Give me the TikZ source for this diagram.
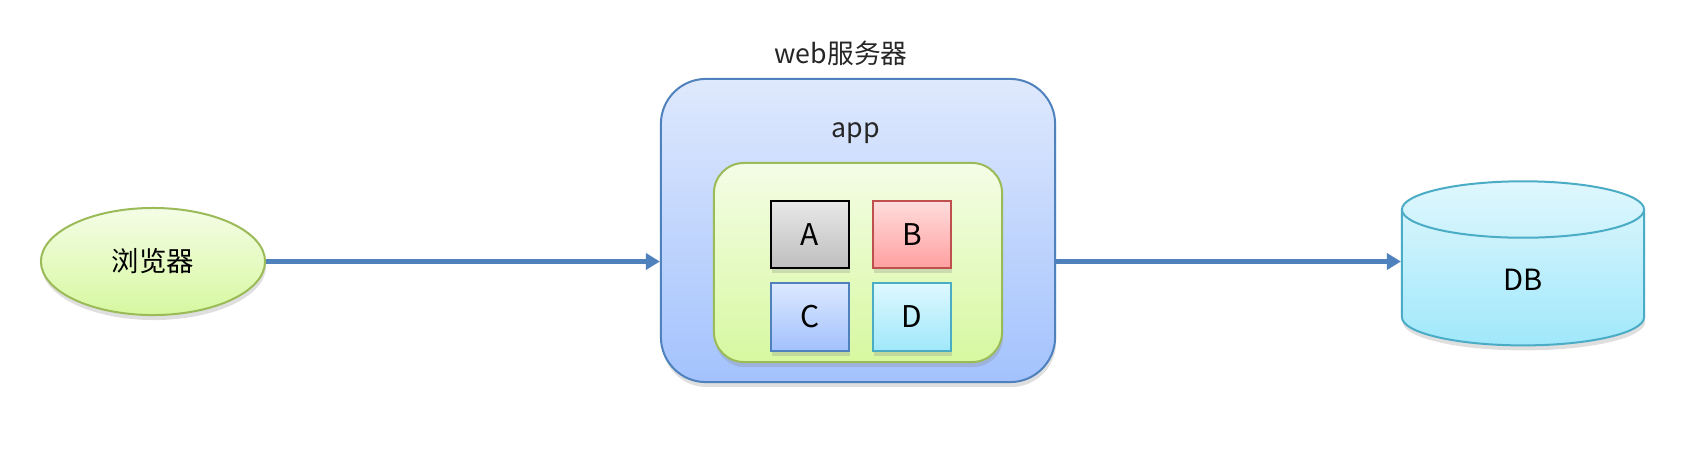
\documentclass[tikz,border=0pt]{standalone}
\usepackage{fontspec}
\setmainfont{Noto Sans CJK SC}
\usepackage{tikz}
\usetikzlibrary{shapes.geometric,shadows,arrows.meta}

\definecolor{lineblue}{RGB}{79,129,189}
\definecolor{linegreen}{RGB}{155,187,89}
\definecolor{linered}{RGB}{192,80,77}
\definecolor{linecyan}{RGB}{75,172,198}
\definecolor{textgray}{RGB}{38,38,38}

\begin{document}
\begin{tikzpicture}
		[x = 0.01cm, y = -0.01cm,
		 shade/.style = {drop shadow = {shadow xshift = 0.01cm, shadow yshift = -0.05cm, opacity = 0.25}},
		 tile/.style = {shade, draw, line width = 0.02cm, minimum width = 0.77cm, minimum height = 0.67cm, font = \fontsize{8.5}{10}\selectfont},
		 link/.style = {draw = lineblue, line width = 0.05cm, -{Triangle[length = 0.14cm, width = 0.16cm]}}]
			\useasboundingbox (0,0) rectangle (1704,454);
			\node (browser) at (153,261.5) [ellipse, shade, draw = linegreen, line width = 0.02cm, minimum width = 2.24cm, minimum height = 1.07cm, top color = {rgb,255:red,244;green,253;blue,230}, bottom color = {rgb,255:red,215;green,248;blue,160}, font = \fontsize{7.8}{9}\selectfont] {浏览器};
			\node (server) at (858,230.5) [shade, draw = lineblue, line width = 0.02cm, rounded corners = 0.45cm, minimum width = 3.94cm, minimum height = 3.03cm, top color = {rgb,255:red,223;green,233;blue,253}, bottom color = {rgb,255:red,163;green,194;blue,253}] {};
			\node (web) at (841,53) [text = textgray, font = \fontsize{7.6}{9}\selectfont] {web服务器};
			\node (app) at (856,133) [text = textgray, font = \fontsize{7.6}{9}\selectfont] {app};
			\node (appbox) at (858,262.5) [shade, draw = linegreen, line width = 0.02cm, rounded corners = 0.3cm, minimum width = 2.88cm, minimum height = 1.99cm, top color = {rgb,255:red,244;green,253;blue,230}, bottom color = {rgb,255:red,215;green,248;blue,160}] {};
			\node (a) at (810,234.5) [tile, draw = black, top color = {rgb,255:red,232;green,232;blue,232}, bottom color = {rgb,255:red,190;green,190;blue,190}] {A};
			\node (b) at (912,234.5) [tile, draw = linered, top color = {rgb,255:red,255;green,220;blue,220}, bottom color = {rgb,255:red,255;green,160;blue,160}] {B};
			\node (c) at (810,317) [tile, draw = lineblue, top color = {rgb,255:red,220;green,232;blue,255}, bottom color = {rgb,255:red,163;green,193;blue,253}] {C};
			\node (d) at (912,317) [tile, draw = linecyan, top color = {rgb,255:red,222;green,248;blue,255}, bottom color = {rgb,255:red,160;green,232;blue,250}] {D};
			\node (db) at (1523,284) [cylinder, shape border rotate = 90, aspect = 0.9, shade, draw = linecyan, line width = 0.02cm, minimum width = 2.42cm, minimum height = 1.64cm, top color = {rgb,255:red,224;green,247;blue,253}, bottom color = {rgb,255:red,160;green,232;blue,251}, font = \fontsize{8.3}{10}\selectfont] {\raisebox{0.09cm}{DB}};
			\draw [link] (browser) -- (server.west |- browser);
			\draw [link] (server.east |- browser) -- (db.west |- browser);
	\end{tikzpicture}
\end{document}
